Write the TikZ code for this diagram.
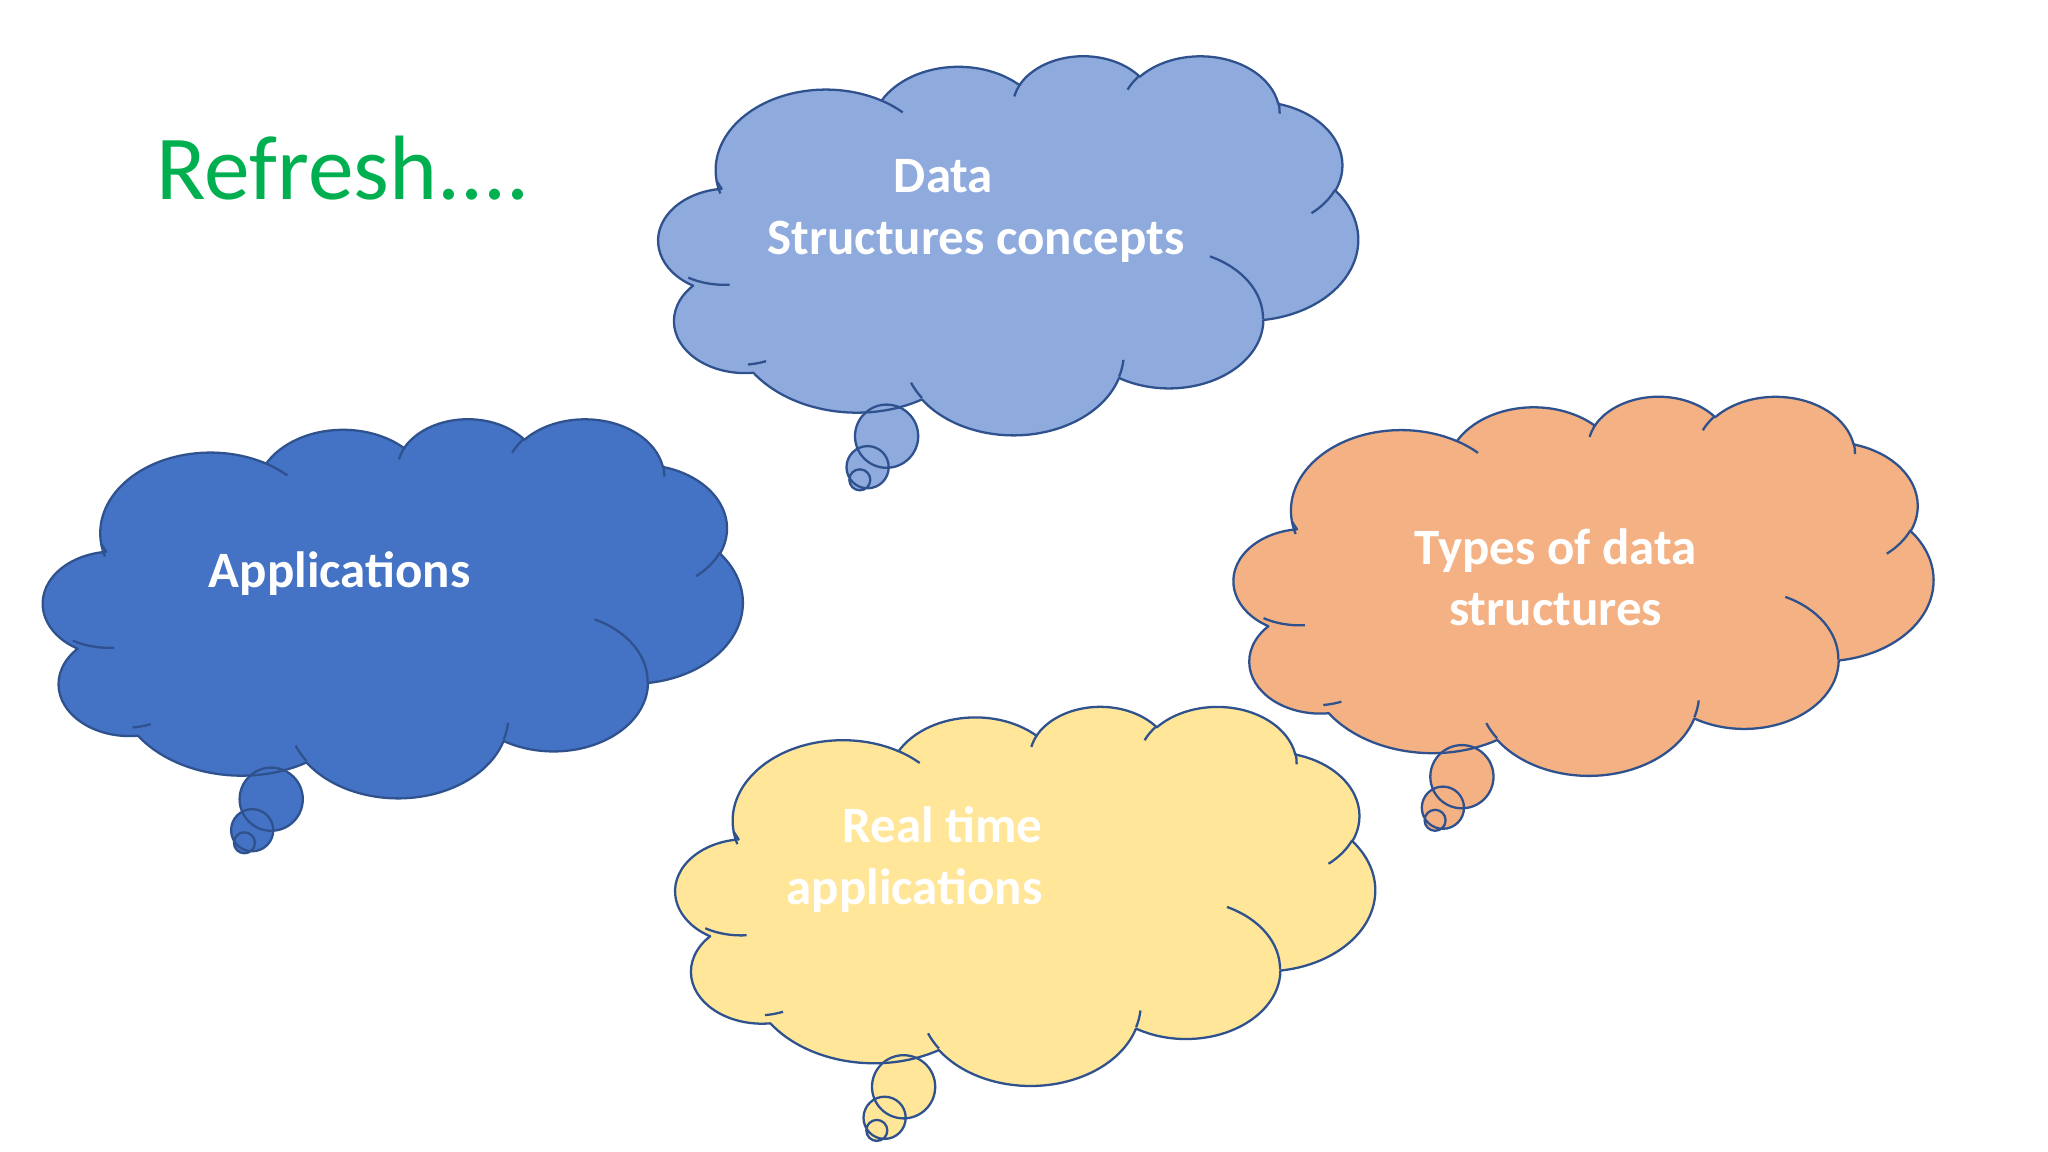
\documentclass[tikz,border=0pt]{standalone}
\usepackage{fontspec}
\setmainfont{Carlito}
\usepackage{tikz}
\usepackage{xcolor}
\definecolor{cloudedge}{RGB}{47,82,143}
\definecolor{paleblue}{RGB}{143,170,220}
\definecolor{deepblue}{RGB}{68,114,196}
\definecolor{peach}{RGB}{244,177,131}
\definecolor{sand}{RGB}{255,230,153}
\definecolor{leafgreen}{RGB}{0,176,80}

% one lobe of the outline: radii, start and sweep (degrees)
\newcommand\cldarc[4]{%
  \pgfmathparse{atan2(#1*sin(#3),#2*cos(#3))}\let\cldTa\pgfmathresult
  \pgfmathparse{atan2(#1*sin(#3+#4),#2*cos(#3+#4))}\let\cldTb\pgfmathresult
  \pgfmathparse{mod(\cldTb-\cldTa+720,360)}\let\cldD\pgfmathresult
  \xdef\cldpath{\cldpath\space arc[start angle=\cldTa,delta angle=\cldD,x radius=#1,y radius=#2]}}
% one inner fold: start point, radii, start and sweep
\newcommand\cldfold[6]{%
  \pgfmathparse{atan2(#3*sin(#5),#4*cos(#5))}\let\cldTa\pgfmathresult
  \pgfmathparse{atan2(#3*sin(#5+#6),#4*cos(#5+#6))}\let\cldTb\pgfmathresult
  \pgfmathparse{mod(\cldTb-\cldTa+720,360)}\let\cldD\pgfmathresult
  \xdef\cldfolds{\cldfolds\space(#1,#2) arc[start angle=\cldTa,delta angle=\cldD,x radius=#3,y radius=#4]}}

\tikzset{
  cloudline/.style={draw=cloudedge,line width=0.65pt,line join=round},
  cloudtext/.style={text=white,inner sep=0pt,font=\fontsize{14.5}{17.5}\selectfont\bfseries}
}

% cloud with its tail: origin x, origin y, fill colour
\newcommand\thoughtcloud[3]{%
  \begin{scope}[shift={(#1,#2)}]
    \fill[#3] (233.6,381.2) circle[radius=31.6] (214.6,412.2) circle[radius=21.1]
      (206.8,424.8) circle[radius=10.5];
    \begin{scope}[xscale=705/43.2,yscale=379/43.2]
      \fill[#3] (3.9,14.37) \cldpath -- cycle;
      \draw[cloudline] (3.9,14.37) \cldpath -- cycle;
      \draw[cloudline] \cldfolds;
    \end{scope}
    \draw[cloudline] (233.6,381.2) circle[radius=31.6] (214.6,412.2) circle[radius=21.1]
      (206.8,424.8) circle[radius=10.5];
  \end{scope}}

\begin{document}
\begin{tikzpicture}[x=0.01cm,y=-0.01cm]
  \fill[white] (0,0) rectangle (2048,1152);
  \useasboundingbox (0,0) rectangle (2048,1152);
  % outline of the cloud
  \gdef\cldpath{}
  \cldarc{6.753}{9.190}{-190.4875}{123.7805}
  \cldarc{5.333}{7.267}{-144.1024}{89.9452}
  \cldarc{4.365}{5.945}{-145.8079}{99.7230}
  \cldarc{4.857}{6.595}{-130.9861}{117.2417}
  \cldarc{5.333}{7.273}{-78.7089}{109.0269}
  \cldarc{6.775}{9.220}{-46.2673}{130.2690}
  \cldarc{5.785}{7.867}{0.6250}{114.0333}
  \cldarc{6.752}{9.215}{22.4516}{115.1726}
  \cldarc{7.720}{10.543}{66.2426}{70.4472}
  \cldarc{4.360}{5.918}{-274.9421}{146.7356}
  \cldarc{4.345}{5.945}{-246.8285}{152.5189}
  % folds inside it
  \gdef\cldfolds{}
  \cldfold{4.693}{26.177}{4.345}{5.945}{86.7420}{26.4295}
  \cldfold{6.928}{34.899}{4.360}{5.918}{73.6105}{11.4475}
  \cldfold{16.478}{39.090}{6.752}{9.215}{137.6242}{14.0811}
  \cldfold{28.827}{34.751}{6.752}{9.215}{6.4533}{15.9984}
  \cldfold{34.129}{22.954}{5.785}{7.867}{-70.2924}{70.9174}
  \cldfold{41.798}{15.354}{5.333}{7.273}{30.3180}{27.7515}
  \cldfold{38.324}{5.426}{4.857}{6.595}{-13.7443}{14.8589}
  \cldfold{29.078}{3.952}{4.857}{6.595}{-149.1815}{18.1954}
  \cldfold{22.141}{4.720}{4.365}{5.945}{-163.4943}{17.6864}
  \cldfold{14.000}{5.192}{6.753}{9.190}{-66.7070}{12.3194}
  \cldfold{4.127}{15.789}{6.753}{9.190}{157.6544}{11.8582}

  \thoughtcloud{653}{55}{paleblue}
  \thoughtcloud{37.6}{418}{deepblue}
  \thoughtcloud{1228.3}{395.5}{peach}
  \thoughtcloud{670}{705.6}{sand}

  \node[anchor=base west,inner sep=0pt,text=leafgreen,font=\fontsize{26}{31}\selectfont] (title) at (156,200) {Refresh....};
  \node[cloudtext,align=center] (concepts) at (976,211) {Data\hspace*{0.65cm}\\Structures concepts};
  \node[cloudtext] (apps) at (339.6,573.5) {Applications};
  \node[cloudtext,align=center] (types) at (1555.6,577.5) {Types of data\\structures};
  \node[cloudtext,align=right,anchor=east] (realtime) at (1043,859.5) {Real time\\applications};
\end{tikzpicture}
\end{document}
